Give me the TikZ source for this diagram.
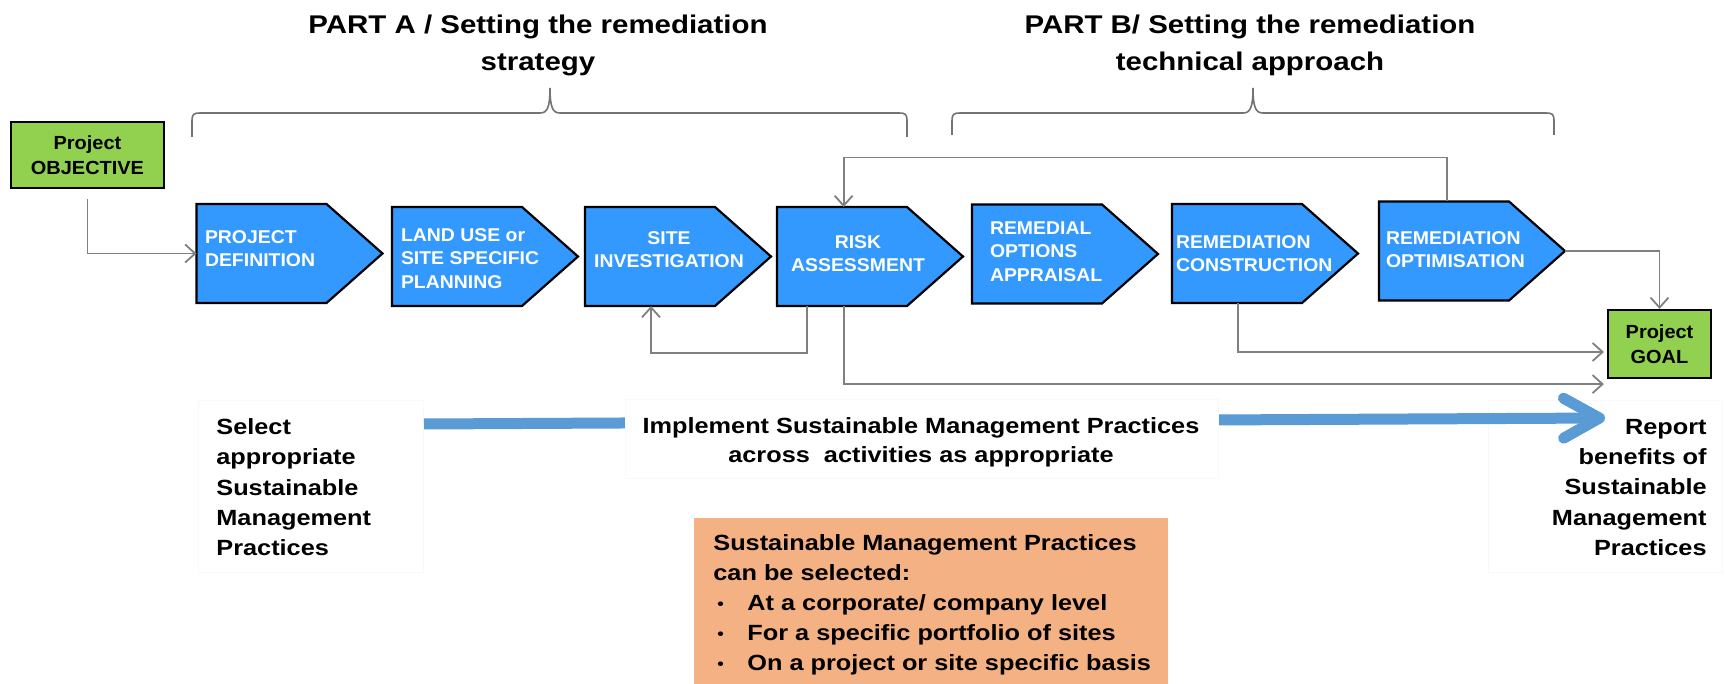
\documentclass[tikz,border=0pt]{standalone}
\usepackage{fontspec}
\setmainfont{Liberation Sans}[FakeStretch=1.15]
\newfontfamily\boxfont{Liberation Sans}[FakeStretch=1.05]
\usetikzlibrary{arrows.meta,calc}
\definecolor{boxblue}{RGB}{51,153,255}
\definecolor{objgreen}{RGB}{146,208,80}
\definecolor{smpblue}{RGB}{91,155,213}
\definecolor{smporange}{RGB}{244,177,131}
\definecolor{conngray}{RGB}{128,128,128}
\newcommand\tstrut{\rule{0pt}{0.8em}}
\newcommand\bul{\makebox[17pt][l]{\hspace{2pt}\raisebox{0.5pt}{\fontsize{8pt}{8pt}\selectfont\textbullet}}}
\begin{document}
\begin{tikzpicture}[x=0.5pt,y=-0.5pt,
  pent/.style={rectangle,minimum width=93pt,minimum height=49.5pt,inner sep=0,outer sep=0},
  pentdraw/.style={fill=boxblue,draw=black,line width=1.1pt,line join=miter},
  btxt/.style={font=\boxfont\bfseries\fontsize{9.25pt}{11.65pt}\selectfont,text=white,inner sep=0,outer sep=0},
  greenbox/.style={rectangle,fill=objgreen,draw=black,line width=1.1pt,inner sep=0,align=center,
    font=\boxfont\bfseries\fontsize{9.5pt}{12.5pt}\selectfont},
  conn/.style={draw=conngray,line width=0.9pt,-{Straight Barb[length=5pt,width=9pt]}},
  brace/.style={draw=black!55,line width=0.8pt},
  ttl/.style={font=\bfseries\fontsize{12.8pt}{18.35pt}\selectfont,align=center,inner sep=0},
  smptxt/.style={font=\bfseries\fontsize{11pt}{15.1pt}\selectfont,inner sep=0},
  faint/.style={draw=black!2.5,line width=0.5pt},
  smparrow/.style={draw=smpblue,line width=5.5pt,-{Straight Barb[length=18pt,width=20pt,round]}}
]
\useasboundingbox (0,0) rectangle (1725,684);
\fill[white] (0,0) rectangle (1725,684);

% braces and titles
\draw[brace] (192,137) -- (192,121) .. controls (192,114) and (194,113) .. (200,113) -- (540,113)
  .. controls (547,113) and (550,108) .. (550,88) .. controls (550,108) and (553,113) .. (560,113)
  -- (899,113) .. controls (905,113) and (907,114) .. (907,121) -- (907,137);
\draw[brace] (952,135) -- (952,121) .. controls (952,114) and (954,113) .. (960,113) -- (1243,113)
  .. controls (1250,113) and (1253,108) .. (1253,88) .. controls (1253,108) and (1256,113) .. (1263,113)
  -- (1546,113) .. controls (1552,113) and (1554,114) .. (1554,121) -- (1554,135);
\node[ttl,anchor=north] (tA) at (538,12.8) {\tstrut PART A / Setting the remediation\\strategy};
\node[ttl,anchor=north] (tB) at (1250,12.8) {\tstrut PART B/ Setting the remediation\\technical approach};

% objective and goal
\node[greenbox,minimum width=76.5pt,minimum height=33pt] (obj) at (87.5,155) {Project\\OBJECTIVE};
\node[greenbox,minimum width=51.5pt,minimum height=34pt] (goal) at (1659.5,344) {Project\\GOAL};

% process boxes
\node[pent] (pd) at (289.5,253.5) {};
\node[pent] (lu) at (485,256.5) {};
\node[pent] (si) at (678,256.5) {};
\node[pent] (ra) at (870,256.5) {};
\node[pent] (roa) at (1065,254) {};
\node[pent] (rc) at (1265,253.5) {};
\node[pent] (ro) at (1472,251) {};
\foreach \n in {pd,lu,si,ra,roa,rc,ro}
  \draw[pentdraw] (\n.north west) -- ([xshift=-28pt]\n.north east) -- (\n.east)
    -- ([xshift=-28pt]\n.south east) -- (\n.south west) -- cycle;

\node[btxt,anchor=north west,align=left] (pdt) at (205,228.8) {\tstrut PROJECT\\DEFINITION};
\node[btxt,anchor=north west,align=left] (lut) at (401,226.8) {\tstrut LAND USE or\\SITE SPECIFIC\\PLANNING};
\node[btxt,anchor=north,align=center] (sit) at (669,229.8) {\tstrut SITE\\INVESTIGATION};
\node[btxt,anchor=north,align=center] (rat) at (858,233.8) {\tstrut RISK\\ASSESSMENT};
\node[btxt,anchor=north west,align=left] (roat) at (990,219.8) {\tstrut REMEDIAL\\OPTIONS\\APPRAISAL};
\node[btxt,anchor=north west,align=left] (rct) at (1176,233.8) {\tstrut REMEDIATION\\CONSTRUCTION};
\node[btxt,anchor=north west,align=left] (rot) at (1386,229.8) {\tstrut REMEDIATION\\OPTIMISATION};

% connectors
\draw[conn,shorten <=5pt] (obj.south) |- (pd.west);
\draw[conn] ([xshift=15pt]ra.south west) -- ++(0,47) -| ([xshift=33pt]si.south west);
\draw[conn] ([xshift=34pt]ro.north west) -- ++(0,-44) -| ([xshift=33.3pt]ra.north west);
\draw[conn] (ro.east) -| (goal.north);
\coordinate (gin1) at ($(goal.west)+(-3,8)$);
\coordinate (gin2) at ($(goal.south west)+(-3,5)$);
\draw[conn] ([xshift=33pt]rc.south west) |- (gin1);
\draw[conn] ([xshift=33.3pt]ra.south west) |- (gin2);

% sustainable management practices band
\draw[faint] (198,400) rectangle (423,572);
\draw[faint] (1488,400) rectangle (1722,572);
\coordinate (smpL) at (424,424);
\coordinate (smpR) at (1605,418);
\draw[smparrow] (smpL) -- (smpR);
\node[rectangle,fill=white,draw=black!2.5,line width=0.5pt,minimum width=296.5pt,minimum height=39.5pt,inner sep=0] (midbox) at (921.5,438.5) {};
\node[smptxt,anchor=north,align=center,font=\bfseries\fontsize{11pt}{14.2pt}\selectfont] (mt) at (921,415.7)
  {\tstrut Implement Sustainable Management Practices\\across\ \ activities as appropriate};
\node[smptxt,anchor=north west,align=left] (lt) at (216,416.7)
  {\tstrut Select\\appropriate\\Sustainable\\Management\\Practices};
\node[smptxt,anchor=north east,align=right] (rt) at (1707,416.4)
  {\tstrut Report\\benefits of\\Sustainable\\Management\\Practices};

% selection box
\node[rectangle,fill=smporange,minimum width=237pt,minimum height=83pt,inner sep=0] (selbox) at (931,601) {};
\node[smptxt,anchor=north west,align=left,font=\bfseries\fontsize{11pt}{15pt}\selectfont] (selt) at (713,532.4)
  {\tstrut Sustainable Management Practices\\can be selected:\\\bul At a corporate/ company level\\\bul For a specific portfolio of sites\\\bul On a project or site specific basis};
\end{tikzpicture}
\end{document}
